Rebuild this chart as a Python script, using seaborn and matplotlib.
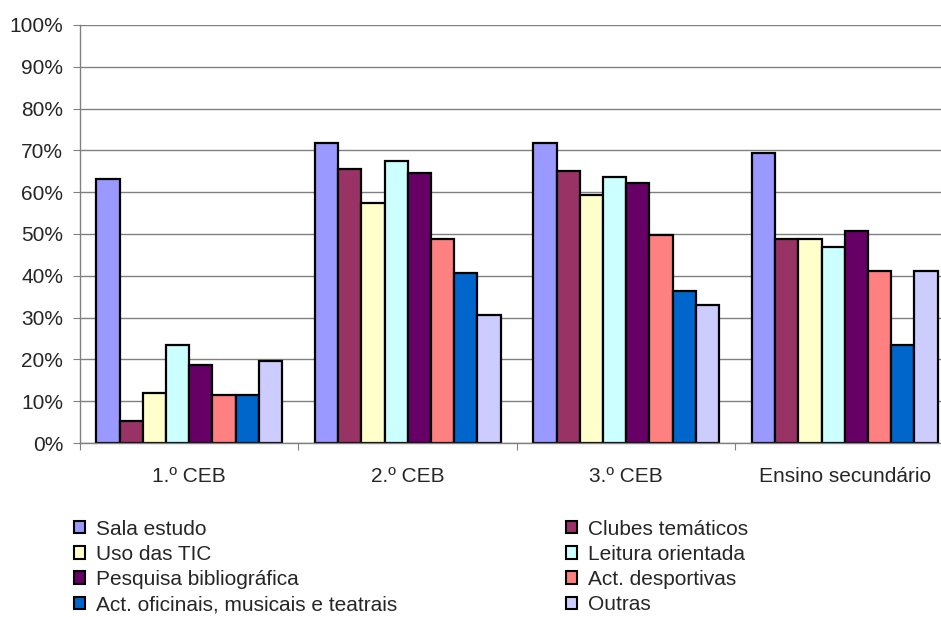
import pandas as pd
import numpy as np
import matplotlib
matplotlib.use('Agg')
import matplotlib.pyplot as plt
import seaborn as sns
from matplotlib.ticker import PercentFormatter
from matplotlib.patches import Patch

# data
levels = ['1.º CEB', '2.º CEB', '3.º CEB', 'Ensino secundário']
activities = ['Sala estudo', 'Clubes temáticos', 'Uso das TIC', 'Leitura orientada',
              'Pesquisa bibliográfica', 'Act. desportivas',
              'Act. oficinais, musicais e teatrais', 'Outras']
sala_estudo = [63.1, 71.8, 71.8, 69.4]
clubes = [5.2, 65.6, 65.1, 48.8]
uso_tic = [12.0, 57.4, 59.3, 48.8]
leitura = [23.4, 67.5, 63.7, 46.8]
pesquisa = [18.7, 64.6, 62.2, 50.7]
desportivas = [11.4, 48.8, 49.8, 41.1]
oficinais = [11.6, 40.6, 36.3, 23.4]
outras = [19.6, 30.6, 33.0, 41.1]
colors = ['#9999FF', '#993366', '#FFFFCC', '#CCFFFF',
          '#660066', '#FF8080', '#0066CC', '#CCCCFF']

series = [sala_estudo, clubes, uso_tic, leitura, pesquisa, desportivas, oficinais, outras]
rows = []
for act, vals in zip(activities, series):
    for lvl, v in zip(levels, vals):
        rows.append({'Nivel': lvl, 'Actividade': act, 'Valor': v})
df = pd.DataFrame(rows)

sns.set_style('white')
plt.rcParams['font.family'] = ['Liberation Sans', 'DejaVu Sans']
FS = 15

fig = plt.figure(figsize=(9.41, 6.17), dpi=100)
# plot area runs a little past the right edge, as in the original
ax = fig.add_axes([0.085, 0.282, 0.9288, 0.6775])

sns.barplot(data=df, x='Nivel', y='Valor', hue='Actividade', order=levels,
            hue_order=activities, palette=colors, saturation=1, width=0.85,
            edgecolor='black', linewidth=1.6, ax=ax, legend=False)

ax.set_ylim(0, 100)
ax.set_xlim(-0.5, 3.5)
ax.set_yticks(np.arange(0, 101, 10))
ax.yaxis.set_major_formatter(PercentFormatter(decimals=0))
ax.yaxis.grid(True, color='#808080', linewidth=1)
ax.set_axisbelow(True)
ax.set_xlabel('')
ax.set_ylabel('')
for s in ['top', 'right']:
    ax.spines[s].set_visible(False)
for s in ['left', 'bottom']:
    ax.spines[s].set_color('#808080')
    ax.spines[s].set_linewidth(1)

# group separators as x tick marks
ax.set_xticks([-0.5, 0.5, 1.5, 2.5, 3.5])
ax.set_xticklabels([])
ax.set_xticks([0, 1, 2, 3], minor=True)
ax.set_xticklabels(levels, minor=True, fontsize=FS)
ax.tick_params(axis='x', which='major', length=5, color='#808080', direction='out', bottom=True)
ax.tick_params(axis='x', which='minor', length=0, pad=17)
ax.tick_params(axis='y', length=5, color='#808080', direction='out', left=True,
               labelsize=FS, pad=7)

# legend: two columns, filled row by row like the original
handles = [Patch(facecolor=c, edgecolor='black', linewidth=1.5) for c in colors]
order = [0, 2, 4, 6, 1, 3, 5, 7]
fig.legend([handles[i] for i in order], [activities[i] for i in order],
           ncol=2, loc='upper left', bbox_to_anchor=(0.0786, 0.158),
           frameon=False, fontsize=FS, handlelength=0.55, handleheight=0.55,
           handletextpad=0.5, columnspacing=8.1, labelspacing=0.3,
           borderpad=0, borderaxespad=0)

fig.savefig('out.png', dpi=100)
